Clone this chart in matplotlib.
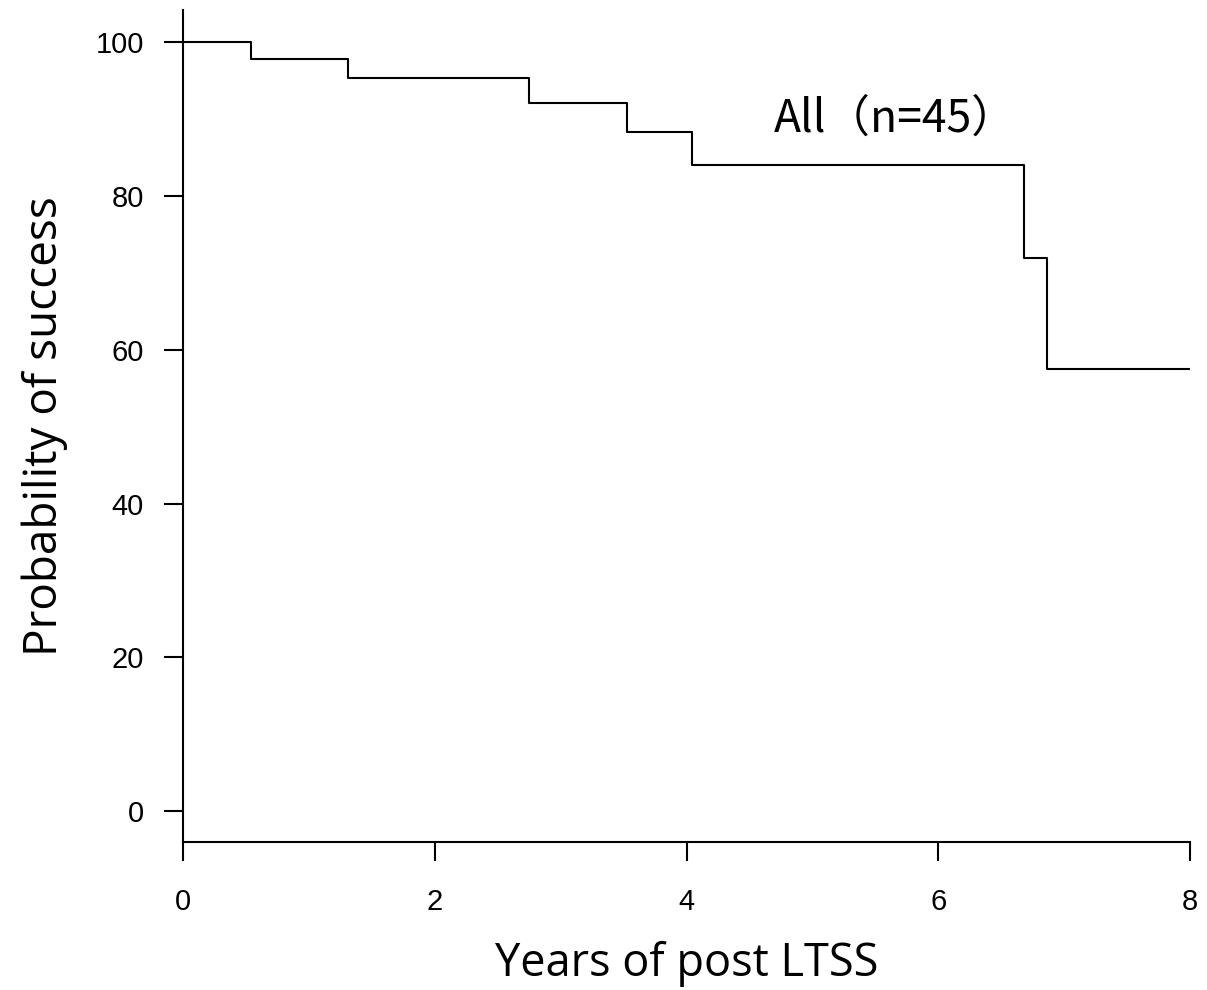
import matplotlib
matplotlib.use("Agg")
import matplotlib.pyplot as plt

# Kaplan-Meier estimate
times = [0, 0.54, 1.31, 2.75, 3.53, 4.04, 6.68, 6.86, 8.0]
survival = [100, 97.8, 95.3, 92.1, 88.3, 84.0, 71.9, 57.5, 57.5]
x_ticks = [0, 2, 4, 6, 8]
y_ticks = [0, 20, 40, 60, 80, 100]
label = "All（n=45）"

W, H = 1207, 990
fig = plt.figure(figsize=(W / 100, H / 100), dpi=100)
ax = fig.add_axes([183 / W, (H - 842) / H, (1190 - 183) / W, (842 - 10) / H])

ax.step(times, survival, where="post", color="black", lw=1.5)

ax.set_xlim(0, 8)
ax.set_ylim(-4.0, 104.2)
ax.set_xticks(x_ticks)
ax.set_yticks(y_ticks)

for side in ["top", "right"]:
    ax.spines[side].set_visible(False)
for side in ["left", "bottom"]:
    ax.spines[side].set_linewidth(1.5)

ax.tick_params(length=14, width=1.5, labelsize=21, pad=14)
ax.tick_params(axis="x", pad=19)
for t in ax.get_xticklabels() + ax.get_yticklabels():
    t.set_fontfamily("Liberation Sans")

ax.set_xlabel("Years of post LTSS", fontsize=32.5, family="Open Sans", labelpad=18)
ax.set_ylabel("Probability of success", fontsize=33, family="Open Sans", labelpad=20)

ax.text(5.66, 90.1, label, fontsize=32, ha="center", va="center",
        family=["Noto Sans CJK JP", "DejaVu Sans"])

fig.savefig("out.png", dpi=100)
